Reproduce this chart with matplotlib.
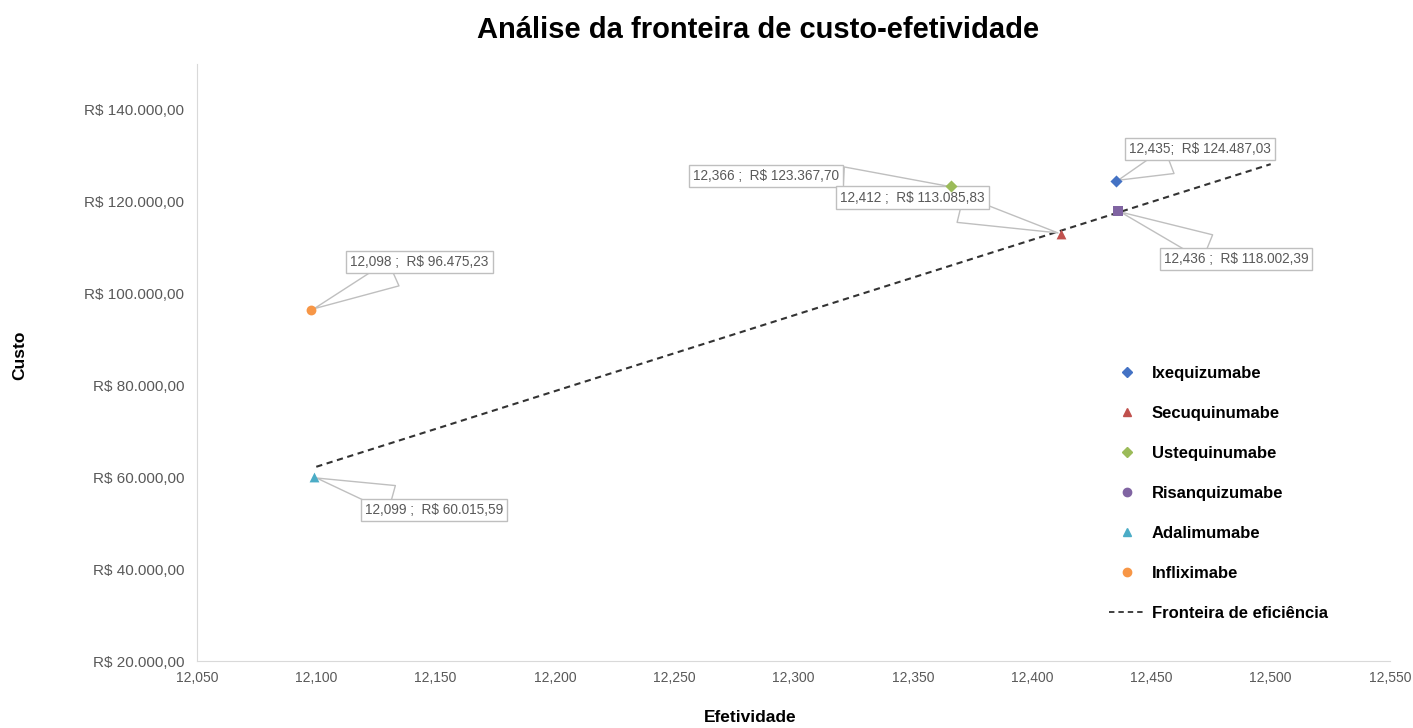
import matplotlib.pyplot as plt
from matplotlib.lines import Line2D

plt.rcParams['font.family'] = ['Liberation Sans', 'DejaVu Sans']

# tratamentos (efetividade x custo)
tratamentos = ['Ixequizumabe', 'Secuquinumabe', 'Ustequinumabe',
               'Risanquizumabe', 'Adalimumabe', 'Infliximabe']
efetividade = [12.435, 12.412, 12.366, 12.436, 12.099, 12.098]
custo = [124487.03, 113085.83, 123367.70, 118002.39, 60015.59, 96475.23]
cores = ['#4472C4', '#C0504D', '#9BBB59', '#8064A2', '#4BACC6', '#F79646']
marcadores = ['D', '^', 'D', 's', '^', 'o']
marcadores_legenda = ['D', '^', 'D', 'o', '^', 'o']
separador = [';', ' ;', ' ;', ' ;', ' ;', ' ;']

# deslocamento dos rotulos (pixels) e ordem de desenho
deslocamento = [(84, 32), (-148, 36), (-185, 10), (118, -48), (120, -33), (108, 48)]
ordem_rotulo = [4.0, 4.5, 4.2, 4.0, 4.0, 4.0]

# fronteira de eficiencia
fronteira_x = [12.100, 12.500]
fronteira_y = [62300, 128200]

xticks = [12.05, 12.10, 12.15, 12.20, 12.25, 12.30, 12.35, 12.40, 12.45, 12.50, 12.55]
yticks = [20000, 40000, 60000, 80000, 100000, 120000, 140000]


def brl(v):
    s = f'{v:,.2f}'
    return 'R$ ' + s.replace(',', 'X').replace('.', ',').replace('X', '.')


def dec(v):
    return f'{v:.3f}'.replace('.', ',')


fig = plt.figure(figsize=(14.13, 7.28), dpi=100)
ax = fig.add_axes([0.1394, 0.092, 0.8443, 0.82])

ax.plot(fronteira_x, fronteira_y, color='#333333', linestyle=(0, (3, 2.2)), linewidth=1.5, zorder=2)

for i in range(len(tratamentos)):
    ax.scatter(efetividade[i], custo[i], marker=marcadores[i], color=cores[i],
               s=50 if marcadores[i] != 'D' else 38, zorder=6, linewidths=0)
    txt = dec(efetividade[i]) + separador[i] + '  ' + brl(custo[i])
    ax.annotate(txt, (efetividade[i], custo[i]), xytext=deslocamento[i],
                textcoords='offset pixels', ha='center', va='center',
                fontsize=9.8, color='#595959', zorder=ordem_rotulo[i],
                bbox=dict(boxstyle='square,pad=0.3', fc='white', ec='#BFBFBF', lw=1),
                arrowprops=dict(arrowstyle='wedge,tail_width=2.0,shrink_factor=0.5',
                                fc='white', ec='#BFBFBF', lw=1, shrinkA=0, shrinkB=2))

ax.set_xlim(12.05, 12.55)
ax.set_ylim(20000, 150000)
ax.set_xticks(xticks)
ax.set_xticklabels([dec(t) for t in xticks])
ax.set_yticks(yticks)
ax.set_yticklabels([brl(t) for t in yticks])
ax.tick_params(length=0, labelcolor='#595959')
ax.tick_params(axis='x', labelsize=10, pad=7)
ax.tick_params(axis='y', labelsize=11, pad=9)

for s in ['top', 'right']:
    ax.spines[s].set_visible(False)
for s in ['left', 'bottom']:
    ax.spines[s].set_color('#D9D9D9')

fig.text(758 / 1413, 1 - 30 / 728, 'Análise da fronteira de custo-efetividade',
         fontsize=21, fontweight='bold', ha='center', va='center')
fig.text(750 / 1413, 1 - 717 / 728, 'Efetividade', fontsize=12.5,
         fontweight='bold', ha='center', va='center')
fig.text(20 / 1413, 1 - 355 / 728, 'Custo', fontsize=12.5, fontweight='bold',
         ha='center', va='center', rotation=90)

handles = [Line2D([], [], marker=marcadores_legenda[i], color=cores[i], linestyle='none',
                  markersize=6 if marcadores_legenda[i] != 'D' else 5)
           for i in range(len(tratamentos))]
handles.append(Line2D([], [], color='#333333', linestyle=(0, (3, 2.2)), linewidth=1.3))
leg = ax.legend(handles, tratamentos + ['Fronteira de eficiência'],
                loc='upper left', bbox_to_anchor=(0.752, 0.52), frameon=False,
                prop={'weight': 'bold', 'size': 12}, labelspacing=1.5,
                handlelength=2.2, handletextpad=0.35)

fig.savefig('out.png', dpi=100)
